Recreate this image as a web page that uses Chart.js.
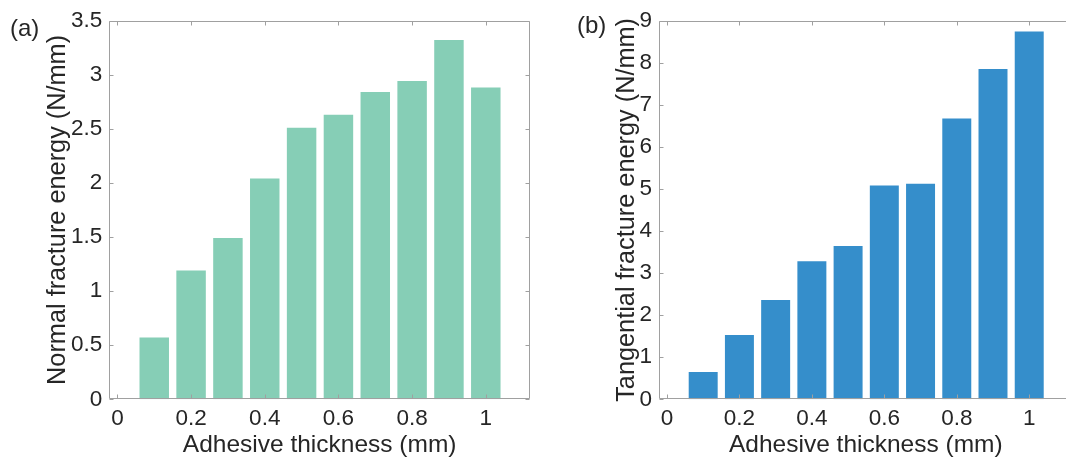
<!DOCTYPE html>
<html>
<head>
<meta charset="utf-8">
<title>Fracture energy vs adhesive thickness</title>
<script src="https://cdn.jsdelivr.net/npm/chart.js@4"></script>
<style>
  body { margin: 0; background: #fff; }
  #wrap { position: relative; width: 1066px; height: 461px; overflow: hidden; font-family: "Liberation Sans", Arial, sans-serif; }
  .panel { position: absolute; top: 0; height: 461px; overflow: hidden; }
  .tag { position: absolute; font-size: 24px; line-height: 1; color: #262626; }
</style>
</head>
<body>
<div id="wrap">
  <div class="panel" style="left:0;width:540px"><canvas id="normalChart" width="540" height="461"></canvas></div>
  <div class="panel" style="left:540px;width:526px"><canvas id="tangentialChart" width="540" height="461"></canvas></div>
  <div class="tag" style="left:10px;top:16px">(a)</div>
  <div class="tag" style="left:577px;top:13px">(b)</div>
</div>

<script>
// adhesive thickness (mm) and the measured fracture energies (N/mm)
const thicknessMm = [0.1, 0.2, 0.3, 0.4, 0.5, 0.6, 0.7, 0.8, 0.9, 1.0];
const normalEnergy = [0.57, 1.19, 1.49, 2.04, 2.51, 2.63, 2.84, 2.94, 3.32, 2.88];
const tangentialEnergy = [0.65, 1.53, 2.36, 3.28, 3.64, 5.08, 5.12, 6.67, 7.85, 8.74];

// tick values
const xTicks = [0, 0.2, 0.4, 0.6, 0.8, 1];
const normalTicks = [0, 0.5, 1, 1.5, 2, 2.5, 3, 3.5];
const tangentialTicks = [0, 1, 2, 3, 4, 5, 6, 7, 8, 9];

const textColor = '#262626';
const axisColor = '#a0a0a0';
const fontFamily = '"Liberation Sans", Arial, sans-serif';

// matlab style box: full frame with short ticks pointing inwards
const boxPlugin = {
    id: 'box',
    afterDatasetsDraw(chart) {
        const { ctx, chartArea: a, scales: { x, y } } = chart;
        const len = 4;
        ctx.save();
        ctx.strokeStyle = axisColor;
        ctx.lineWidth = 1;
        ctx.beginPath();
        const l = Math.round(a.left) + 0.5, r = Math.round(a.right) - 0.5;
        const t = Math.round(a.top) + 0.5, b = Math.round(a.bottom) - 0.5;
        ctx.rect(l, t, r - l, b - t);
        x.ticks.forEach(tk => {
            const px = Math.round(x.getPixelForValue(tk.value)) + 0.5;
            ctx.moveTo(px, b); ctx.lineTo(px, b - len);
            ctx.moveTo(px, t); ctx.lineTo(px, t + len);
        });
        y.ticks.forEach(tk => {
            const py = Math.round(y.getPixelForValue(tk.value)) + 0.5;
            ctx.moveTo(l, py); ctx.lineTo(l + len, py);
            ctx.moveTo(r, py); ctx.lineTo(r - len, py);
        });
        ctx.stroke();
        ctx.restore();
    }
};

function makePanel(canvasId, values, yTicks, colour, yTitle, opts) {
    return new Chart(document.getElementById(canvasId), {
        type: 'bar',
        data: {
            datasets: [{
                data: thicknessMm.map((t, i) => ({ x: t, y: values[i] })),
                backgroundColor: colour,
                borderWidth: 0,
                barPercentage: 0.8,
                categoryPercentage: 1.0
            }]
        },
        options: {
            responsive: false,
            animation: false,
            layout: { padding: { left: 0, top: opts.top, right: opts.right, bottom: 0 } },
            plugins: { legend: { display: false }, tooltip: { enabled: false } },
            scales: {
                x: {
                    type: 'linear',
                    offset: false,
                    min: -0.022,
                    max: 1.12,
                    grid: { display: false, drawTicks: false, offset: false },
                    border: { display: false },
                    afterBuildTicks: s => { s.ticks = xTicks.map(v => ({ value: v })); },
                    afterFit: s => { s.height = 61.7; },
                    ticks: {
                        autoSkip: false,
                        maxRotation: 0,
                        padding: 6,
                        color: textColor,
                        font: { family: fontFamily, size: 22.5 },
                        callback: v => String(+v.toFixed(2))
                    },
                    title: {
                        display: true,
                        text: 'Adhesive thickness (mm)',
                        color: textColor,
                        font: { family: fontFamily, size: 24.5 },
                        padding: { top: 0, bottom: 1 }
                    }
                },
                y: {
                    min: yTicks[0],
                    max: yTicks[yTicks.length - 1],
                    grid: { display: false, drawTicks: false },
                    border: { display: false },
                    afterBuildTicks: s => { s.ticks = yTicks.map(v => ({ value: v })); },
                    afterFit: s => { s.width = opts.left; },
                    ticks: {
                        padding: 7,
                        color: textColor,
                        font: { family: fontFamily, size: 22.5 },
                        callback: v => String(+v.toFixed(2))
                    },
                    title: {
                        display: true,
                        text: yTitle,
                        color: textColor,
                        font: { family: fontFamily, size: 25.3 },
                        padding: { top: opts.titleGap, bottom: 0 }
                    }
                }
            }
        },
        plugins: [boxPlugin]
    });
}

makePanel('normalChart', normalEnergy, normalTicks, '#86ceb6',
    'Normal fracture energy (N/mm)', { left: 109.3, top: 20, right: 10, titleGap: 42.5 });

makePanel('tangentialChart', tangentialEnergy, tangentialTicks, '#358ecb',
    'Tangential fracture energy (N/mm)', { left: 119, top: 19, right: 7.3, titleGap: 72.3 });
</script>
</body>
</html>
